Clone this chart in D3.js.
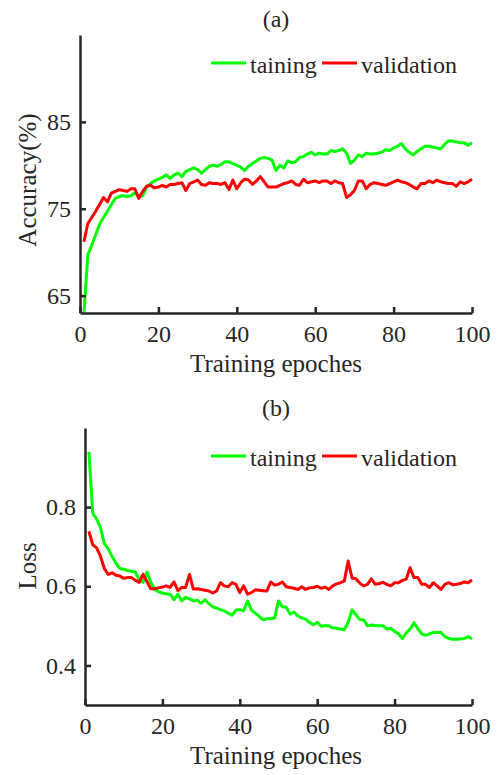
<!DOCTYPE html>
<html>
<head>
<meta charset="utf-8">
<script src="https://cdn.jsdelivr.net/npm/d3@7"></script>
<style>
  body { margin: 0; background: #fff; }
  svg text { font-family: "Liberation Serif", "Times New Roman", serif; fill: #262626; }
  .axis path, .axis line { stroke: #262626; stroke-width: 2.5; }
</style>
</head>
<body>
<div class="chart"></div>
<script>
// Training curves, one value per epoch (1..100)
var trainAcc = [63.0, 69.7, 70.8, 72.0, 73.2, 74.0, 74.7, 75.5, 76.2, 76.4,
  76.5, 76.4, 76.5, 76.8, 76.4, 76.5, 77.5, 77.9, 78.2, 78.4,
  78.6, 78.9, 78.5, 78.9, 79.1, 78.7, 79.3, 79.5, 79.7, 79.5,
  79.1, 79.5, 79.9, 80.0, 79.9, 80.1, 80.4, 80.4, 80.2, 80.0,
  79.8, 79.4, 79.9, 80.2, 80.5, 80.8, 80.9, 80.8, 80.6, 79.4,
  80.0, 79.7, 80.5, 80.3, 80.4, 80.9, 81.0, 81.3, 81.5, 81.2,
  81.4, 81.3, 81.3, 81.7, 81.6, 81.7, 81.9, 81.4, 80.2, 80.6,
  81.2, 81.0, 81.4, 81.3, 81.3, 81.4, 81.5, 81.8, 81.7, 82.0,
  82.2, 82.5, 81.9, 81.5, 81.2, 81.6, 81.9, 82.2, 82.2, 82.1,
  82.0, 81.9, 82.4, 82.8, 82.8, 82.7, 82.6, 82.6, 82.3, 82.6];

var valAcc = [71.2, 73.3, 74.0, 74.7, 75.5, 76.3, 75.8, 76.8, 77.0, 77.2,
  77.1, 77.0, 77.3, 77.3, 76.2, 77.0, 77.6, 77.7, 77.4, 77.5,
  77.7, 77.5, 77.8, 77.8, 77.9, 78.0, 77.1, 77.9, 78.1, 78.3,
  77.8, 77.7, 78.0, 77.9, 77.9, 77.8, 78.0, 77.2, 78.3, 77.3,
  78.0, 78.4, 78.3, 77.8, 78.2, 78.7, 78.1, 77.5, 77.5, 77.5,
  77.7, 77.9, 78.0, 78.2, 77.8, 77.7, 78.4, 78.0, 78.1, 78.2,
  78.0, 78.2, 78.2, 77.9, 78.2, 78.0, 77.9, 76.3, 76.6, 77.1,
  78.2, 78.2, 77.3, 77.8, 78.0, 77.9, 77.8, 77.7, 77.9, 78.1,
  78.3, 78.1, 78.0, 77.8, 77.5, 77.3, 77.9, 77.9, 78.2, 78.0,
  78.3, 78.1, 78.0, 77.9, 77.9, 77.6, 78.1, 77.9, 78.1, 78.4];

var trainLoss = [0.940, 0.785, 0.770, 0.748, 0.708, 0.695, 0.675, 0.658, 0.645, 0.643,
  0.640, 0.638, 0.636, 0.616, 0.610, 0.636, 0.610, 0.592, 0.586, 0.583,
  0.581, 0.580, 0.566, 0.580, 0.563, 0.572, 0.568, 0.563, 0.565, 0.557,
  0.566, 0.556, 0.548, 0.545, 0.541, 0.538, 0.532, 0.527, 0.540, 0.541,
  0.538, 0.563, 0.540, 0.532, 0.524, 0.515, 0.518, 0.518, 0.520, 0.563,
  0.548, 0.547, 0.530, 0.535, 0.525, 0.520, 0.517, 0.509, 0.503, 0.509,
  0.499, 0.500, 0.500, 0.495, 0.494, 0.492, 0.490, 0.509, 0.540, 0.528,
  0.516, 0.515, 0.500, 0.502, 0.501, 0.500, 0.500, 0.492, 0.494, 0.486,
  0.480, 0.468, 0.482, 0.492, 0.508, 0.493, 0.480, 0.476, 0.480, 0.483,
  0.483, 0.483, 0.473, 0.468, 0.466, 0.466, 0.467, 0.468, 0.473, 0.467];

var valLoss = [0.739, 0.705, 0.697, 0.676, 0.645, 0.630, 0.634, 0.628, 0.626, 0.620,
  0.622, 0.622, 0.615, 0.610, 0.630, 0.612, 0.594, 0.594, 0.596, 0.598,
  0.601, 0.597, 0.611, 0.589, 0.597, 0.597, 0.630, 0.593, 0.594, 0.592,
  0.590, 0.588, 0.583, 0.588, 0.609, 0.601, 0.599, 0.609, 0.605, 0.584,
  0.601, 0.580, 0.584, 0.591, 0.590, 0.589, 0.588, 0.611, 0.603, 0.605,
  0.611, 0.599, 0.597, 0.595, 0.592, 0.599, 0.592, 0.596, 0.597, 0.600,
  0.595, 0.598, 0.592, 0.601, 0.606, 0.609, 0.613, 0.664, 0.621, 0.619,
  0.608, 0.601, 0.605, 0.619, 0.605, 0.607, 0.610, 0.605, 0.601, 0.609,
  0.609, 0.615, 0.618, 0.647, 0.622, 0.622, 0.605, 0.605, 0.597, 0.609,
  0.601, 0.592, 0.605, 0.609, 0.604, 0.605, 0.607, 0.611, 0.609, 0.616];

var epochs = d3.range(1, 101);
var xTicks = [0, 20, 40, 60, 80, 100];
var accTicks = [65, 75, 85];
var lossTicks = [0.4, 0.6, 0.8];
var seriesNames = ["taining", "validation"];
var seriesColors = ["#00ff00", "#ff0000"];

var svgWidth = 502;
var svgHeight = 775;

var svg = d3.select(".chart")
  .append("svg")
  .attr("width", svgWidth)
  .attr("height", svgHeight);

// draws one panel: axes, two lines, legend, titles
function drawPanel(opt) {
  var x = d3.scaleLinear().domain([0, 100]).range([opt.left, 472]);
  var y = d3.scaleLinear().domain(opt.yDomain).range([opt.bottom, opt.top]);

  var g = svg.append("g");

  var line = d3.line()
    .x(function(d, i) { return x(epochs[i]); })
    .y(function(d) { return y(d); });

  // training first, validation on top
  [opt.train, opt.val].forEach(function(vals, k) {
    g.append("path")
      .datum(vals)
      .attr("fill", "none")
      .attr("stroke", seriesColors[k])
      .attr("stroke-width", 3)
      .attr("stroke-linejoin", "round")
      .attr("d", line);
  });

  // x axis, ticks inward
  var xAxis = g.append("g")
    .attr("class", "axis")
    .attr("transform", "translate(0," + opt.bottom + ")")
    .call(d3.axisBottom(x).tickValues(xTicks).tickSizeInner(-6).tickSizeOuter(0).tickPadding(12));
  xAxis.selectAll("text").style("font-size", "24px").attr("fill", "#262626");

  var yAxis = g.append("g")
    .attr("class", "axis")
    .attr("transform", "translate(" + opt.left + ",0)")
    .call(d3.axisLeft(y).tickValues(opt.yTicks).tickFormat(opt.fmt).tickSizeInner(-6).tickSizeOuter(0).tickPadding(9));
  yAxis.selectAll("text").style("font-size", "24px").attr("fill", "#262626");

  // panel title
  g.append("text")
    .attr("x", 276)
    .attr("y", opt.titleY)
    .attr("text-anchor", "middle")
    .style("font-size", "24px")
    .text(opt.title);

  // axis labels
  g.append("text")
    .attr("x", 276)
    .attr("y", opt.bottom + 59)
    .attr("text-anchor", "middle")
    .style("font-size", "25px")
    .text("Training epoches");

  g.append("text")
    .attr("transform", "translate(36," + opt.yLabelY + ") rotate(-90)")
    .attr("text-anchor", "middle")
    .style("font-size", "25px")
    .text(opt.yLabel);

  // legend
  var legendX = [211, 322];
  seriesNames.forEach(function(name, k) {
    g.append("line")
      .attr("x1", legendX[k])
      .attr("x2", legendX[k] + 35)
      .attr("y1", opt.legendY)
      .attr("y2", opt.legendY)
      .attr("stroke", seriesColors[k])
      .attr("stroke-width", 3);
    g.append("text")
      .attr("x", legendX[k] + 39)
      .attr("y", opt.legendY + 9.5)
      .style("font-size", "24px")
      .text(name);
  });
}

drawPanel({
  left: 80, top: 35, bottom: 313,
  yDomain: [63, 95],
  yTicks: accTicks,
  fmt: d3.format("d"),
  train: trainAcc, val: valAcc,
  title: "(a)", titleY: 27,
  yLabel: "Accuracy(%)", yLabelY: 180,
  legendY: 63
});

drawPanel({
  left: 85, top: 428, bottom: 705,
  yDomain: [0.3, 1.0],
  yTicks: lossTicks,
  fmt: d3.format(".1f"),
  train: trainLoss, val: valLoss,
  title: "(b)", titleY: 416,
  yLabel: "Loss", yLabelY: 566,
  legendY: 456
});
</script>
</body>
</html>
